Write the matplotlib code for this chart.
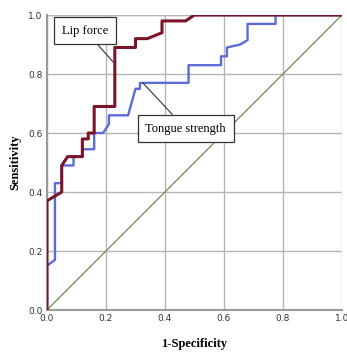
import matplotlib
matplotlib.use('Agg')
import matplotlib.pyplot as plt

# ROC curve vertices (1-specificity, sensitivity)
lip_x = [0.0, 0.0, 0.05, 0.05, 0.07, 0.12, 0.12, 0.14, 0.14, 0.16, 0.16, 0.23, 0.23,
         0.30, 0.30, 0.34, 0.39, 0.39, 0.47, 0.50, 1.0]
lip_y = [0.0, 0.37, 0.40, 0.49, 0.52, 0.52, 0.58, 0.58, 0.60, 0.60, 0.69, 0.69, 0.89,
         0.89, 0.92, 0.92, 0.94, 0.98, 0.98, 1.0, 1.0]

tongue_x = [0.0, 0.0, 0.027, 0.027, 0.05, 0.05, 0.09, 0.09, 0.12, 0.12, 0.16, 0.16,
            0.19, 0.21, 0.21, 0.275, 0.30, 0.315, 0.315, 0.48, 0.48, 0.59, 0.59,
            0.61, 0.61, 0.655, 0.68, 0.68, 0.775, 0.775, 1.0]
tongue_y = [0.0, 0.15, 0.17, 0.43, 0.43, 0.49, 0.49, 0.52, 0.52, 0.545, 0.545, 0.60,
            0.60, 0.63, 0.66, 0.66, 0.75, 0.75, 0.77, 0.77, 0.83, 0.83, 0.86,
            0.86, 0.89, 0.90, 0.915, 0.97, 0.97, 1.0, 1.0]

ref_x = [0.0, 1.0]
ref_y = [0.0, 1.0]

ticks = [0.0, 0.2, 0.4, 0.6, 0.8, 1.0]

fig = plt.figure(figsize=(3.47, 3.52), dpi=100)
ax = fig.add_axes([0.1354, 0.1193, 0.850, 0.838])

ax.plot(ref_x, ref_y, color='#6b8e4e', lw=0.9, zorder=2)
ax.plot(tongue_x, tongue_y, color='#5b6bd8', lw=1.7, zorder=3)
ax.plot(lip_x, lip_y, color='#7a1428', lw=2.2, zorder=4)

ax.set_xlim(0, 1)
ax.set_ylim(0, 1)
ax.set_xticks(ticks)
ax.set_yticks(ticks)
ax.set_xticklabels(['%.1f' % t for t in ticks])
ax.set_yticklabels(['%.1f' % t for t in ticks])
ax.tick_params(length=0, labelsize=6.5, colors='#333333', pad=3)
ax.grid(True, color='#b5b5b5', lw=1.0)
ax.set_axisbelow(True)

for s in ['top', 'right']:
    ax.spines[s].set_visible(False)
for s in ['left', 'bottom']:
    ax.spines[s].set_color('#999999')
    ax.spines[s].set_linewidth(1.5)
ax.axhline(1.0, color='#b5b5b5', lw=1.0, zorder=1)

ax.set_xlabel('1-Specificity', family='Liberation Serif', fontweight='bold', fontsize=9, labelpad=11)
ax.set_ylabel('Sensitivity', family='Liberation Serif', fontweight='bold', fontsize=9, labelpad=5)

box = dict(boxstyle='square,pad=0.62', fc='white', ec='#333333', lw=0.9)
ax.annotate('Lip force', xy=(0.225, 0.84), xytext=(0.13, 0.947),
            family='Liberation Serif', fontsize=9, ha='center', va='center', bbox=box,
            arrowprops=dict(arrowstyle='-', color='#333333', lw=0.8, shrinkA=0, shrinkB=0), zorder=5)
ax.annotate('Tongue strength', xy=(0.325, 0.77), xytext=(0.47, 0.615),
            family='Liberation Serif', fontsize=9, ha='center', va='center', bbox=box,
            arrowprops=dict(arrowstyle='-', color='#333333', lw=0.8, shrinkA=0, shrinkB=0), zorder=5)

plt.savefig('out.png', dpi=100)
